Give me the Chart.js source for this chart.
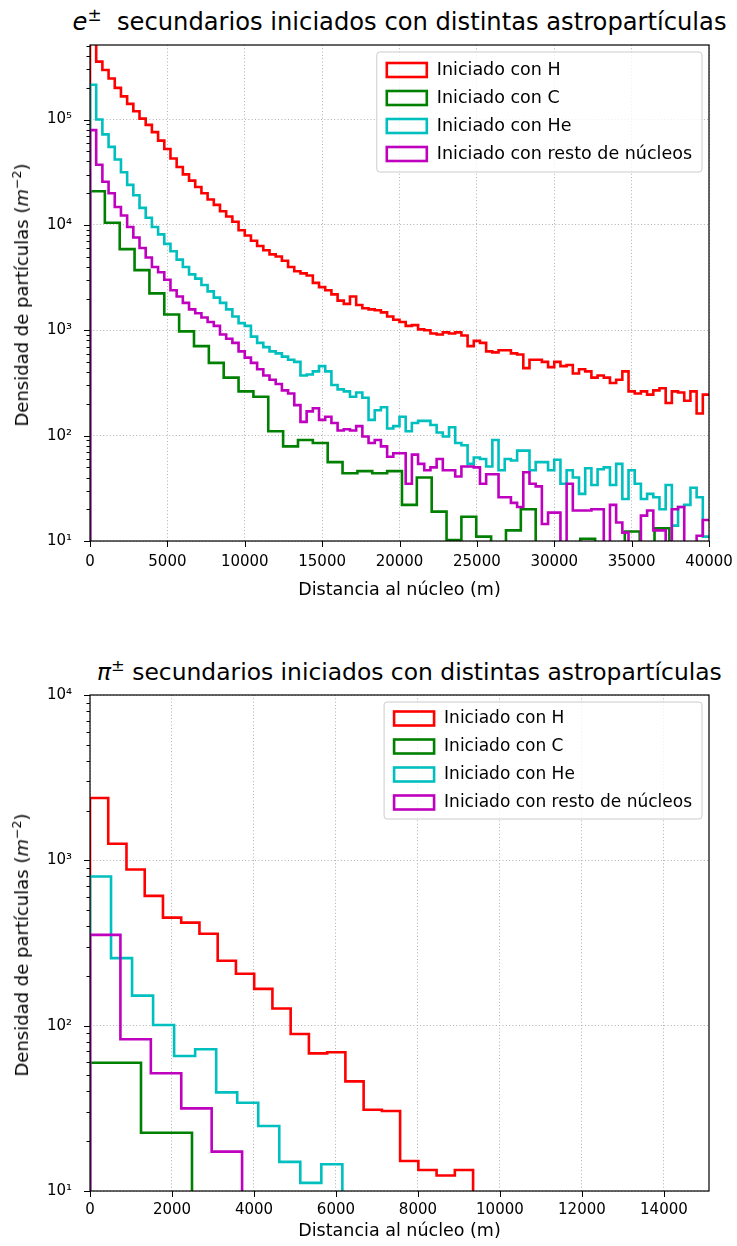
<!DOCTYPE html>
<html>
<head>
<meta charset="utf-8">
<script src="https://cdn.jsdelivr.net/npm/chart.js@4.4.0/dist/chart.umd.min.js"></script>
<style>
  html, body { margin: 0; padding: 0; background: #fff; }
  #page { position: relative; width: 737px; height: 1246px; overflow: hidden; font-family: "DejaVu Sans", sans-serif; }
  .panel { position: absolute; left: 0; width: 737px; height: 623px; }
  .panel canvas { display: block; }
  .title { position: absolute; white-space: nowrap; color: #000; }
  .title sup, .ylab sup { font-size: 0.7em; line-height: 0; vertical-align: 0.55em; }
  .ylab { position: absolute; white-space: nowrap; color: #000; font-size: 18px; line-height: 22px; transform: translate(-50%, -50%) rotate(-90deg); }
</style>
</head>
<body>
<div id="page">
  <div class="title" style="left:399.5px; top:8px; font-size:24.2px; line-height:28px; transform:translateX(-50%);"><i>e</i><sup>±</sup>&nbsp; secundarios iniciados con distintas astropartículas</div>
  <div class="panel" style="top:0px;"><canvas id="chartE" width="737" height="623"></canvas></div>
  <div class="ylab" style="left:22px; top:295px;">Densidad de partículas (<i>m</i><sup>−2</sup>)</div>
  <div class="title" style="left:97px; top:658px; font-size:23.4px; line-height:28px;"><i>π</i><sup>±</sup> secundarios iniciados con distintas astropartículas</div>
  <div class="panel" style="top:623px;"><canvas id="chartPi" width="737" height="623"></canvas></div>
  <div class="ylab" style="left:22px; top:945px;">Densidad de partículas (<i>m</i><sup>−2</sup>)</div>
</div>
<script>
// ---- series labels and colours ----
const seriesLabels = ['Iniciado con H', 'Iniciado con C', 'Iniciado con He', 'Iniciado con resto de núcleos'];
const seriesColors = ['#ff0000', '#008000', '#00bfbf', '#bf00bf'];

// ---- e± density per radial bin (m^-2); bin widths in metres ----
const eBinWidth = [400, 960, 400, 400];
const eH = [603000, 355000, 295000, 245000, 200000, 166000, 141000, 120000, 102000, 89100,
  75900, 63100, 52500, 42700, 35500, 30200, 26300, 22900, 20000, 17400,
  15500, 13500, 12000, 10700, 8910, 7940, 7080, 6310, 5750, 5250,
  5010, 4570, 3980, 3630, 3470, 3310, 2820, 2570, 2400, 2190,
  1910, 1780, 2090, 1740, 1620, 1580, 1550, 1480, 1350, 1260,
  1200, 1100, 1120, 1020, 1000, 933, 912, 955, 933, 955,
  891, 708, 794, 759, 631, 617, 646, 646, 603, 589,
  437, 525, 525, 501, 447, 501, 457, 468, 389, 427,
  407, 355, 372, 355, 316, 339, 407, 263, 251, 263,
  245, 269, 282, 204, 263, 257, 214, 263, 162, 245];
const eC = [20900, 10500, 5890, 3720, 2240, 1410, 977, 708, 490, 355,
  263, 234, 110, 79, 91, 85, 56, 44, 46, 44,
  46, 22, 40, 19, 10.2, 17, 11, 4, 12.6, 20,
  4, 4, 4, 10.5, 4, 4, 12.3, 4, 13.2, 4,
  4, 4];
const eHe = [214000, 100000, 72400, 55000, 41700, 31600, 24000, 19100, 14500, 11700,
  9550, 8130, 6610, 5620, 4680, 3980, 3390, 3090, 2690, 2340,
  2040, 1820, 1580, 1350, 1170, 1100, 871, 759, 692, 631,
  603, 562, 525, 501, 372, 380, 407, 457, 407, 302,
  275, 263, 234, 257, 229, 141, 174, 186, 117, 123,
  151, 110, 132, 138, 138, 126, 107, 98, 120, 85,
  81, 54, 62, 60, 51, 91, 47, 60, 58, 72,
  72, 47, 56, 56, 47, 59, 35, 47, 40, 28,
  49, 34, 48, 50, 34, 54, 25, 47, 35, 25,
  28, 26, 20, 34, 14, 21, 22, 32, 26, 11];
const eRest = [79400, 37200, 25700, 20000, 14800, 12300, 9550, 7590, 6030, 4900,
  3980, 3550, 3020, 2400, 2090, 1820, 1580, 1450, 1320, 1200,
  1100, 912, 832, 759, 631, 550, 490, 427, 372, 339,
  309, 269, 251, 195, 135, 170, 182, 141, 151, 132,
  112, 115, 112, 123, 98, 85, 91, 79, 63, 68,
  68, 35, 66, 54, 47, 50, 60, 47, 47, 41,
  51, 51, 50, 35, 43, 43, 26, 26, 23, 21,
  45, 35, 33, 14.5, 18.6, 18.6, 4, 35, 19.5, 19.5,
  19.5, 20, 20, 4, 22, 15, 12, 4, 4, 17.4,
  19.5, 12.6, 12.6, 4, 20, 21, 4, 4, 11.2, 15.8];

// ---- π± density per radial bin (m^-2) ----
const piBinWidth = [445, 1244, 513, 742];
const piH = [2380, 1260, 880, 610, 450, 420, 360, 247, 206, 167, 127, 89, 68, 69, 46, 31, 30.5, 15.2, 13.4, 12.4, 13.4];
const piC = [59.7, 22.5];
const piHe = [798, 256, 152, 101, 65.6, 72, 39.5, 34.2, 24.7, 15, 11.2, 14.5];
const piRest = [354, 82.8, 51.5, 31.6, 17.3];

// ---- axes ----
const eXTicks = [0, 5000, 10000, 15000, 20000, 25000, 30000, 35000, 40000];
const eYDecades = [10, 100, 1000, 10000, 100000];
const eRange = { xMax: 40000, yMin: 10, yMax: 510000 };
const piXTicks = [0, 2000, 4000, 6000, 8000, 10000, 12000, 14000];
const piYDecades = [10, 100, 1000, 10000];
const piRange = { xMax: 15100, yMin: 10, yMax: 10000 };

const FONT = '"DejaVu Sans", sans-serif';
const GRID = '#b0b0b0';
const BASE = 1; // below the axis floor, so the outline drops out of view
const SUP = { '0': '⁰', '1': '¹', '2': '²', '3': '³', '4': '⁴', '5': '⁵', '6': '⁶' };

function isDecade(v) {
  const l = Math.log10(v);
  return Math.abs(l - Math.round(l)) < 1e-9;
}

// outline of a step histogram: rises at 0, runs over every bin and falls after
// the last one, unless the histogram carries on past the visible range
function stepOutline(width, values, xMax) {
  const pts = [{ x: 0, y: BASE }];
  values.forEach((v, i) => pts.push({ x: i * width, y: v }));
  const end = values.length * width;
  pts.push({ x: end, y: values[values.length - 1] });
  if (end < xMax) pts.push({ x: end, y: BASE });
  return pts;
}

function logTicks(decades, max) {
  const out = [];
  decades.forEach(d => {
    for (let k = 1; k <= 9; k++) {
      const v = d * k;
      if (v <= max + 1e-9) out.push({ value: v, major: k === 1 });
    }
  });
  return out;
}

// outward tick marks and the four-sided frame
const frameTicks = {
  id: 'frameTicks',
  afterDatasetsDraw(chart) {
    const { ctx, chartArea: a, scales: { x, y } } = chart;
    ctx.save();
    ctx.strokeStyle = '#000';
    ctx.lineWidth = 1;
    ctx.beginPath();
    x.ticks.forEach(t => {
      const px = Math.round(x.getPixelForValue(t.value)) + 0.5;
      ctx.moveTo(px, a.bottom); ctx.lineTo(px, a.bottom + 6);
    });
    y.ticks.forEach(t => {
      const py = Math.round(y.getPixelForValue(t.value)) + 0.5;
      const len = t.major ? 6 : 3.5;
      ctx.moveTo(a.left, py); ctx.lineTo(a.left - len, py);
    });
    ctx.stroke();
    ctx.lineWidth = 1.2;
    ctx.strokeRect(a.left, a.top, a.right - a.left, a.bottom - a.top);
    ctx.restore();
  }
};

// boxed legend in the upper-right corner of the plot area
const boxLegend = {
  id: 'boxLegend',
  afterDraw(chart, args, o) {
    const { ctx, chartArea: a } = chart;
    const items = chart.data.datasets.slice().sort((p, q) => p.legendIndex - q.legendIndex);
    ctx.save();
    ctx.font = o.size + 'px ' + FONT;
    const textW = Math.max(...items.map(d => ctx.measureText(d.label).width));
    const w = o.textX + textW + o.padRight;
    const h = o.firstRow + (items.length - 1) * o.rowH + o.firstRow;
    const left = a.right - o.inset - w;
    const top = a.top + o.inset;
    ctx.beginPath();
    ctx.roundRect(left, top, w, h, 3);
    ctx.fillStyle = 'rgba(255,255,255,0.8)';
    ctx.fill();
    ctx.strokeStyle = '#cccccc';
    ctx.lineWidth = 1;
    ctx.stroke();
    items.forEach((d, i) => {
      const cy = top + o.firstRow + i * o.rowH;
      ctx.strokeStyle = d.borderColor;
      ctx.lineWidth = 2.6;
      ctx.strokeRect(left + o.patchX, cy - o.patchH / 2, o.patchW, o.patchH);
      ctx.fillStyle = '#000';
      ctx.textBaseline = 'middle';
      ctx.textAlign = 'left';
      ctx.fillText(d.label, left + o.textX, cy);
    });
    ctx.restore();
  }
};

function noEdgePadding(s) {
  s.paddingLeft = 0; s.paddingRight = 0; s.paddingTop = 0; s.paddingBottom = 0;
}

function makeChart(id, widths, seriesValues, xTicks, yDecades, range, geom) {
  const datasets = seriesValues.map((vals, i) => ({
    label: seriesLabels[i],
    data: stepOutline(widths[i], vals, range.xMax),
    borderColor: seriesColors[i],
    backgroundColor: seriesColors[i],
    borderWidth: 2.6,
    pointRadius: 0,
    fill: false,
    stepped: 'before',
    tension: 0,
    order: seriesValues.length - i,
    legendIndex: i
  }));
  return new Chart(document.getElementById(id), {
    type: 'line',
    data: { datasets },
    plugins: [frameTicks, boxLegend],
    options: {
      responsive: false,
      animation: false,
      events: [],
      layout: { padding: { left: 0, top: geom.top, right: geom.right, bottom: geom.bottom } },
      plugins: {
        legend: { display: false },
        tooltip: { enabled: false },
        boxLegend: { size: geom.legendSize, inset: 7, textX: 60, padRight: 10, firstRow: geom.firstRow, rowH: 28, patchX: 10, patchW: 40, patchH: 14 }
      },
      scales: {
        x: {
          type: 'linear', min: 0, max: range.xMax,
          afterBuildTicks: s => { s.ticks = xTicks.map(v => ({ value: v })); },
          afterFit: s => { s.height = geom.xHeight; noEdgePadding(s); },
          ticks: { autoSkip: false, maxRotation: 0, padding: geom.xPad, color: '#000', font: { family: FONT, size: 15 }, callback: v => String(v) },
          grid: { drawTicks: false, color: GRID, lineWidth: 1 },
          border: { display: false, dash: [1, 2.3] },
          title: { display: true, text: 'Distancia al núcleo (m)', color: '#000', font: { family: FONT, size: 17.5 }, padding: 0 }
        },
        y: {
          type: 'logarithmic', min: range.yMin, max: range.yMax,
          afterBuildTicks: s => { s.ticks = logTicks(yDecades, range.yMax); },
          afterFit: s => { s.width = geom.yWidth; noEdgePadding(s); },
          ticks: {
            autoSkip: false, padding: 18, color: '#000', font: { family: FONT, size: 15 },
            callback: v => isDecade(v) ? '10' + String(Math.round(Math.log10(v))).split('').map(c => SUP[c]).join('') : ''
          },
          grid: { drawTicks: false, lineWidth: 1, color: c => (c.tick && isDecade(c.tick.value)) ? GRID : 'rgba(0,0,0,0)' },
          border: { display: false, dash: [1, 2.3] },
          title: { display: false }
        }
      }
    }
  });
}

makeChart('chartE', eBinWidth, [eH, eC, eHe, eRest], eXTicks, eYDecades, eRange,
  { top: 45, right: 28, bottom: 22.5, xHeight: 59.5, xPad: 12, yWidth: 90, legendSize: 17.5, firstRow: 18 });
makeChart('chartPi', piBinWidth, [piH, piC, piHe, piRest], piXTicks, piYDecades, piRange,
  { top: 72, right: 28, bottom: 4.5, xHeight: 50.5, xPad: 10, yWidth: 90, legendSize: 17, firstRow: 16.5 });
</script>
</body>
</html>
